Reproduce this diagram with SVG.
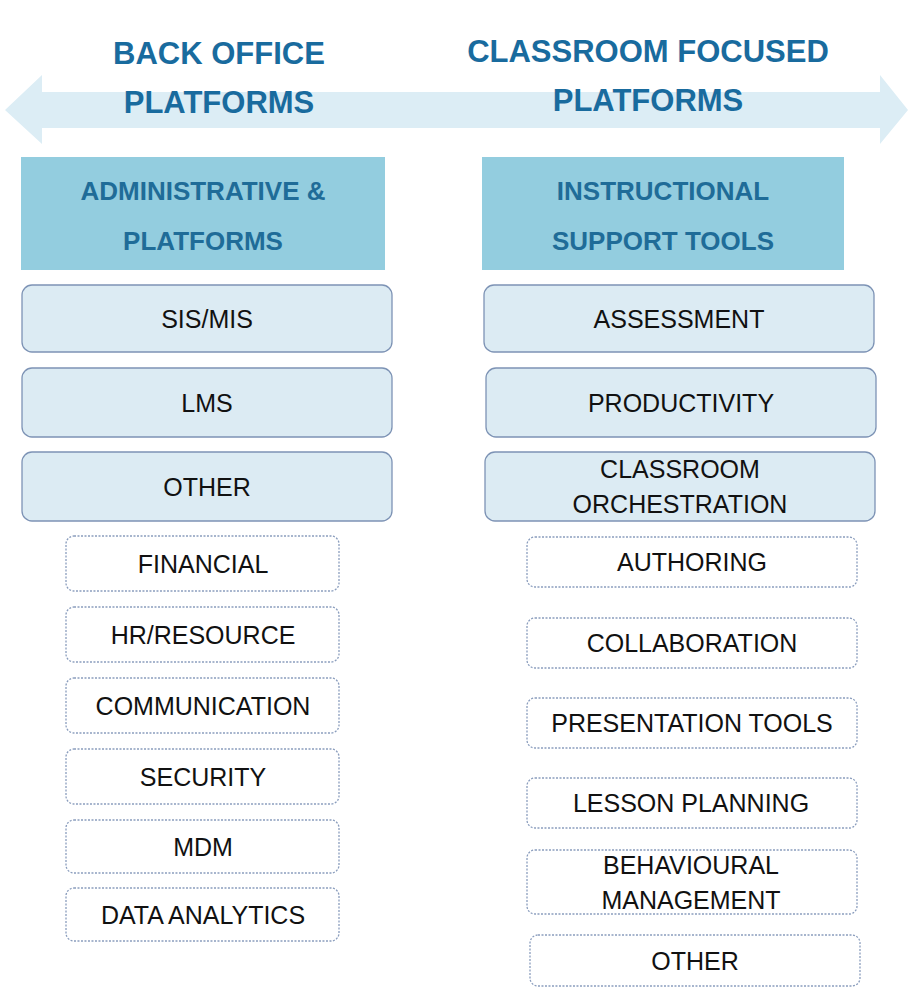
<svg xmlns="http://www.w3.org/2000/svg" width="908" height="987" viewBox="0 0 908 987">
<style>
.title{font-family:"Liberation Sans",Arial,sans-serif;font-weight:bold;font-size:31px;fill:#196B9E;text-anchor:middle}
.head{fill:#93CDDF}
.headt{font-family:"Liberation Sans",Arial,sans-serif;font-weight:bold;font-size:26px;fill:#1F6C98;text-anchor:middle}
.solid{fill:#DCEBF3;stroke:#7D93B5;stroke-width:1.3}
.dash{fill:#FFFFFF;stroke:#8A9DBD;stroke-width:1.3;stroke-dasharray:2 1.5}
.t{font-family:"Liberation Sans",Arial,sans-serif;font-size:25px;fill:#111;text-anchor:middle}
</style>
<g id="arrow">
<polygon points="5,110 42,75 42,92 880,92 880,75 908,110 880,144 880,128 42,128 42,144" fill="#DCEDF5"/>
</g>
<g id="title-left">
<text class="title" x="219" y="64">BACK OFFICE</text>
<text class="title" x="219" y="113">PLATFORMS</text>
</g>
<g id="title-right">
<text class="title" x="648" y="62">CLASSROOM FOCUSED</text>
<text class="title" x="648" y="111">PLATFORMS</text>
</g>
<g id="head-left">
<rect class="head" x="21" y="157" width="364" height="113"/>
<text class="headt" x="203" y="200">ADMINISTRATIVE &amp;</text>
<text class="headt" x="203" y="250">PLATFORMS</text>
</g>
<g id="head-right">
<rect class="head" x="482" y="157" width="362" height="113"/>
<text class="headt" x="663" y="200">INSTRUCTIONAL</text>
<text class="headt" x="663" y="250">SUPPORT TOOLS</text>
</g>
<g id="sis"><rect class="solid" x="22" y="285" width="370" height="67" rx="10"/><text class="t" x="207" y="328">SIS/MIS</text></g>
<g id="lms"><rect class="solid" x="22" y="368" width="370" height="69" rx="10"/><text class="t" x="207" y="412">LMS</text></g>
<g id="other-left"><rect class="solid" x="22" y="452" width="370" height="69" rx="10"/><text class="t" x="207" y="496">OTHER</text></g>
<g id="assessment"><rect class="solid" x="484" y="285" width="390" height="67" rx="10"/><text class="t" x="679" y="328">ASSESSMENT</text></g>
<g id="productivity"><rect class="solid" x="486" y="368" width="390" height="69" rx="10"/><text class="t" x="681" y="412">PRODUCTIVITY</text></g>
<g id="orchestration"><rect class="solid" x="485" y="452" width="390" height="69" rx="10"/><text class="t" x="680" y="478">CLASSROOM</text><text class="t" x="680" y="513">ORCHESTRATION</text></g>
<g id="financial"><rect class="dash" x="66" y="536" width="273" height="55" rx="8"/><text class="t" x="203" y="573">FINANCIAL</text></g>
<g id="hr"><rect class="dash" x="66" y="607" width="273" height="55" rx="8"/><text class="t" x="203" y="644">HR/RESOURCE</text></g>
<g id="communication"><rect class="dash" x="66" y="678" width="273" height="55" rx="8"/><text class="t" x="203" y="715">COMMUNICATION</text></g>
<g id="security"><rect class="dash" x="66" y="749" width="273" height="55" rx="8"/><text class="t" x="203" y="786">SECURITY</text></g>
<g id="mdm"><rect class="dash" x="66" y="820" width="273" height="53" rx="8"/><text class="t" x="203" y="856">MDM</text></g>
<g id="analytics"><rect class="dash" x="66" y="888" width="273" height="53" rx="8"/><text class="t" x="203" y="924">DATA ANALYTICS</text></g>
<g id="authoring"><rect class="dash" x="527" y="537" width="330" height="50" rx="8"/><text class="t" x="692" y="571">AUTHORING</text></g>
<g id="collaboration"><rect class="dash" x="527" y="618" width="330" height="50" rx="8"/><text class="t" x="692" y="652">COLLABORATION</text></g>
<g id="presentation"><rect class="dash" x="527" y="698" width="330" height="50" rx="8"/><text class="t" x="692" y="732">PRESENTATION TOOLS</text></g>
<g id="lesson"><rect class="dash" x="527" y="778" width="330" height="50" rx="8"/><text class="t" x="691" y="812">LESSON PLANNING</text></g>
<g id="behavioural"><rect class="dash" x="527" y="850" width="330" height="64" rx="8"/><text class="t" x="691" y="874">BEHAVIOURAL</text><text class="t" x="691" y="909">MANAGEMENT</text></g>
<g id="other-right"><rect class="dash" x="530" y="935" width="330" height="51" rx="8"/><text class="t" x="695" y="970">OTHER</text></g>
<g id="connectors"></g>
</svg>
